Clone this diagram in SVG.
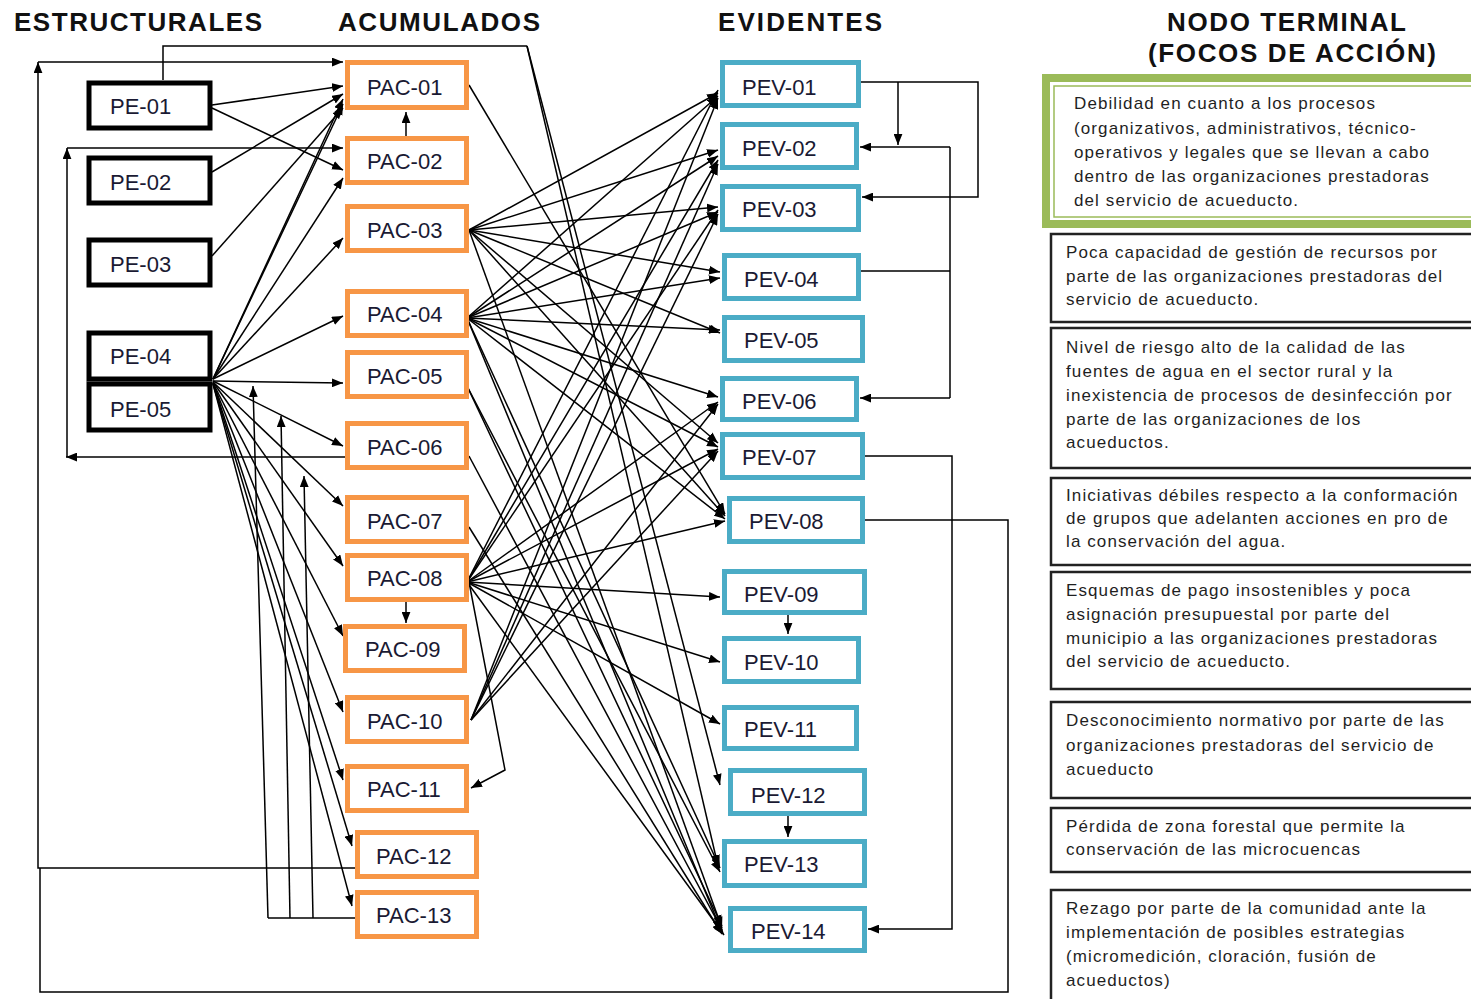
<svg xmlns="http://www.w3.org/2000/svg" width="1471" height="999" viewBox="0 0 1471 999">
<defs>
<marker id="ah" viewBox="0 0 10 8" refX="10" refY="4" markerWidth="11" markerHeight="9" markerUnits="userSpaceOnUse" orient="auto"><path d="M0,0 L10,4 L0,8 z" fill="#000"/></marker>
<style>
.hdr{font-family:"Liberation Sans",Arial,sans-serif;font-weight:bold;font-size:26px;fill:#111}
.pe rect{fill:#fff;stroke:#000;stroke-width:5}
.pac rect{fill:#fff;stroke:#F79646;stroke-width:5}
.pev rect{fill:#fff;stroke:#4BACC6;stroke-width:5}
.lbl{font-family:"Liberation Sans",Arial,sans-serif;font-size:22px;fill:#1a1a33;dominant-baseline:central}
.c path{fill:none;stroke:#000;stroke-width:1.5}
.c .a{marker-end:url(#ah)}
.tb rect{fill:#fff;stroke:#222;stroke-width:2.5}
.tx{font-family:"Liberation Sans",Arial,sans-serif;font-size:17px;letter-spacing:1.1px;fill:#1f1f1f}
</style>
</defs>
<rect width="1471" height="999" fill="#fff"/>

<text class="hdr" x="14" y="31" textLength="248" lengthAdjust="spacing">ESTRUCTURALES</text>
<text class="hdr" x="338" y="31" textLength="202" lengthAdjust="spacing">ACUMULADOS</text>
<text class="hdr" x="718" y="31" textLength="164" lengthAdjust="spacing">EVIDENTES</text>
<text class="hdr" x="1167" y="31" textLength="239" lengthAdjust="spacing">NODO TERMINAL</text>
<text class="hdr" x="1148" y="62" textLength="288" lengthAdjust="spacing">(FOCOS DE ACCIÓN)</text>

<g class="c" id="connectors">
<path class="a" d="M212,105 L343,86"/>
<path class="a" d="M212,108 L343,170"/>
<path class="a" d="M212,172 L343,94"/>
<path class="a" d="M212,256 L343,108"/>
<path class="a" d="M213,379 L343,99"/>
<path class="a" d="M213,379 L343,104"/>
<path class="a" d="M213,379 L343,178"/>
<path class="a" d="M213,379 L343,238"/>
<path class="a" d="M213,379 L343,316"/>
<path class="a" d="M213,381 L343,383"/>
<path class="a" d="M213,381 L343,446"/>
<path class="a" d="M213,382 L343,506"/>
<path class="a" d="M213,382 L343,566"/>
<path class="a" d="M213,383 L343,636"/>
<path class="a" d="M213,383 L343,712"/>
<path class="a" d="M213,383 L343,780"/>
<path class="a" d="M213,384 L352,846"/>
<path class="a" d="M213,384 L352,906"/>
<path d="M355,918 L268,918"/>
<path class="a" d="M268,918 L253,386"/>
<path class="a" d="M290,918 L281,416"/>
<path class="a" d="M313,918 L304,476"/>
<path class="a" d="M355,868 L38,868 L38,62"/>
<path class="a" d="M38,62 L343,62"/>
<path d="M864,520 L1008,520 L1008,992 L40,992 L40,868"/>
<path class="a" d="M345,457 L66,457"/>
<path class="a" d="M67,457 L67,148"/>
<path class="a" d="M67,148 L343,148"/>
<path d="M163,80 L163,46 L527,46"/>
<path class="a" d="M527,46 L720,785"/>
<path class="a" d="M527,46 L718,866"/>
<path class="a" d="M406,136 L406,112"/>
<path class="a" d="M406,602 L406,623"/>
<path class="a" d="M469,582 L505,770 L471,788"/>
<path class="a" d="M469,85 L725,514"/>
<path class="a" d="M469,230 L718,93"/>
<path class="a" d="M469,230 L718,150"/>
<path class="a" d="M469,230 L718,207"/>
<path class="a" d="M469,230 L720,272"/>
<path class="a" d="M469,230 L720,333"/>
<path class="a" d="M469,230 L718,443"/>
<path class="a" d="M469,230 L725,516"/>
<path class="a" d="M469,230 L722,928"/>
<path class="a" d="M467,318 L718,96"/>
<path class="a" d="M467,318 L718,156"/>
<path class="a" d="M467,318 L718,212"/>
<path class="a" d="M467,318 L720,278"/>
<path class="a" d="M467,318 L720,330"/>
<path class="a" d="M467,318 L718,397"/>
<path class="a" d="M467,318 L718,447"/>
<path class="a" d="M467,318 L725,519"/>
<path class="a" d="M467,318 L720,868"/>
<path class="a" d="M467,318 L722,932"/>
<path class="a" d="M467,386 L720,872"/>
<path class="a" d="M467,386 L722,926"/>
<path class="a" d="M469,456 L722,930"/>
<path class="a" d="M469,527 L722,934"/>
<path class="a" d="M467,582 L718,90"/>
<path class="a" d="M467,582 L718,160"/>
<path class="a" d="M467,582 L718,210"/>
<path class="a" d="M467,582 L718,402"/>
<path class="a" d="M467,582 L718,449"/>
<path class="a" d="M467,582 L725,521"/>
<path class="a" d="M467,582 L720,597"/>
<path class="a" d="M467,582 L720,662"/>
<path class="a" d="M467,582 L720,724"/>
<path class="a" d="M467,582 L724,935"/>
<path class="a" d="M471,720 L718,98"/>
<path class="a" d="M471,720 L718,164"/>
<path class="a" d="M471,720 L718,214"/>
<path class="a" d="M471,720 L718,404"/>
<path class="a" d="M471,720 L718,451"/>
<path class="a" d="M860,82 L978,82 L978,197 L862,197"/>
<path class="a" d="M898,82 L898,145"/>
<path d="M860,271 L950,271 M950,147 L950,398"/>
<path class="a" d="M950,147 L860,147"/>
<path class="a" d="M950,398 L860,398"/>
<path class="a" d="M864,456 L952,456 L952,929 L868,929"/>
<path class="a" d="M788,615 L788,634"/>
<path class="a" d="M788,816 L788,837"/>
</g>

<g class="pe" id="PE-01"><rect x="89" y="83" width="121" height="45"/><text class="lbl" x="110" y="106">PE-01</text></g>
<g class="pe" id="PE-02"><rect x="89" y="158" width="121" height="45"/><text class="lbl" x="110" y="182">PE-02</text></g>
<g class="pe" id="PE-03"><rect x="89" y="240" width="121" height="45"/><text class="lbl" x="110" y="264">PE-03</text></g>
<g class="pe" id="PE-04"><rect x="89" y="333" width="121" height="46"/><text class="lbl" x="110" y="356">PE-04</text></g>
<g class="pe" id="PE-05"><rect x="89" y="384" width="121" height="46"/><text class="lbl" x="110" y="409">PE-05</text></g>

<g class="pac" id="PAC-01"><rect x="347.5" y="62.5" width="119" height="45"/><text class="lbl" x="367" y="87">PAC-01</text></g>
<g class="pac" id="PAC-02"><rect x="347.5" y="138.5" width="119" height="44"/><text class="lbl" x="367" y="161">PAC-02</text></g>
<g class="pac" id="PAC-03"><rect x="347.5" y="206.5" width="119" height="44"/><text class="lbl" x="367" y="230">PAC-03</text></g>
<g class="pac" id="PAC-04"><rect x="347.5" y="291.5" width="119" height="44"/><text class="lbl" x="367" y="314">PAC-04</text></g>
<g class="pac" id="PAC-05"><rect x="347.5" y="352.5" width="119" height="44"/><text class="lbl" x="367" y="376">PAC-05</text></g>
<g class="pac" id="PAC-06"><rect x="347.5" y="423.5" width="119" height="44"/><text class="lbl" x="367" y="447">PAC-06</text></g>
<g class="pac" id="PAC-07"><rect x="347.5" y="497.5" width="119" height="44"/><text class="lbl" x="367" y="521">PAC-07</text></g>
<g class="pac" id="PAC-08"><rect x="347.5" y="555.5" width="119" height="44"/><text class="lbl" x="367" y="578">PAC-08</text></g>
<g class="pac" id="PAC-09"><rect x="345.5" y="626.5" width="119" height="44"/><text class="lbl" x="365" y="649">PAC-09</text></g>
<g class="pac" id="PAC-10"><rect x="347.5" y="697.5" width="119" height="44"/><text class="lbl" x="367" y="721">PAC-10</text></g>
<g class="pac" id="PAC-11"><rect x="347.5" y="766.5" width="119" height="44"/><text class="lbl" x="367" y="789">PAC-11</text></g>
<g class="pac" id="PAC-12"><rect x="357.5" y="832.5" width="119" height="44"/><text class="lbl" x="376" y="856">PAC-12</text></g>
<g class="pac" id="PAC-13"><rect x="357.5" y="892.5" width="119" height="44"/><text class="lbl" x="376" y="915">PAC-13</text></g>

<g class="pev" id="PEV-01"><rect x="722.5" y="62.5" width="136" height="43"/><text class="lbl" x="742" y="87">PEV-01</text></g>
<g class="pev" id="PEV-02"><rect x="722.5" y="124.5" width="134" height="43"/><text class="lbl" x="742" y="148">PEV-02</text></g>
<g class="pev" id="PEV-03"><rect x="722.5" y="186.5" width="136" height="43"/><text class="lbl" x="742" y="209">PEV-03</text></g>
<g class="pev" id="PEV-04"><rect x="724.5" y="255.5" width="134" height="43"/><text class="lbl" x="744" y="279">PEV-04</text></g>
<g class="pev" id="PEV-05"><rect x="724.5" y="317.5" width="138" height="43"/><text class="lbl" x="744" y="340">PEV-05</text></g>
<g class="pev" id="PEV-06"><rect x="722.5" y="378.5" width="134" height="41"/><text class="lbl" x="742" y="401">PEV-06</text></g>
<g class="pev" id="PEV-07"><rect x="722.5" y="434.5" width="140" height="43"/><text class="lbl" x="742" y="457">PEV-07</text></g>
<g class="pev" id="PEV-08"><rect x="729.5" y="498.5" width="133" height="43"/><text class="lbl" x="749" y="521">PEV-08</text></g>
<g class="pev" id="PEV-09"><rect x="724.5" y="571.5" width="140" height="41"/><text class="lbl" x="744" y="594">PEV-09</text></g>
<g class="pev" id="PEV-10"><rect x="724.5" y="638.5" width="134" height="43"/><text class="lbl" x="744" y="662">PEV-10</text></g>
<g class="pev" id="PEV-11"><rect x="724.5" y="707.5" width="132" height="41"/><text class="lbl" x="744" y="729">PEV-11</text></g>
<g class="pev" id="PEV-12"><rect x="730.5" y="770.5" width="134" height="43"/><text class="lbl" x="751" y="795">PEV-12</text></g>
<g class="pev" id="PEV-13"><rect x="724.5" y="841.5" width="140" height="44"/><text class="lbl" x="744" y="864">PEV-13</text></g>
<g class="pev" id="PEV-14"><rect x="730.5" y="908.5" width="134" height="42"/><text class="lbl" x="751" y="931">PEV-14</text></g>

<g id="NT-1">
<rect x="1046" y="78" width="440" height="146" fill="#fff" stroke="#9BBB59" stroke-width="8"/>
<rect x="1054" y="86" width="430" height="131" fill="none" stroke="#9BBB59" stroke-width="1.5"/>
<text class="tx"><tspan x="1074" y="109">Debilidad en cuanto a los procesos</tspan><tspan x="1074" y="134">(organizativos, administrativos, técnico-</tspan><tspan x="1074" y="158">operativos y legales que se llevan a cabo</tspan><tspan x="1074" y="182">dentro de las organizaciones prestadoras</tspan><tspan x="1074" y="206">del servicio de acueducto.</tspan></text>
</g>
<g class="tb" id="NT-2"><rect x="1051" y="234" width="430" height="88"/>
<text class="tx"><tspan x="1066" y="258">Poca capacidad de gestión de recursos por</tspan><tspan x="1066" y="282">parte de las  organizaciones prestadoras del</tspan><tspan x="1066" y="305">servicio de acueducto.</tspan></text></g>
<g class="tb" id="NT-3"><rect x="1051" y="328" width="430" height="140"/>
<text class="tx"><tspan x="1066" y="353">Nivel de riesgo alto de la calidad de las</tspan><tspan x="1066" y="377">fuentes de agua en el sector rural y la</tspan><tspan x="1066" y="401">inexistencia de procesos de desinfección por</tspan><tspan x="1066" y="425">parte de las organizaciones de los</tspan><tspan x="1066" y="448">acueductos.</tspan></text></g>
<g class="tb" id="NT-4"><rect x="1051" y="478" width="430" height="87"/>
<text class="tx"><tspan x="1066" y="501">Iniciativas débiles respecto a la conformación</tspan><tspan x="1066" y="524">de grupos  que adelanten acciones en pro de</tspan><tspan x="1066" y="547">la conservación del agua.</tspan></text></g>
<g class="tb" id="NT-5"><rect x="1051" y="572" width="430" height="117"/>
<text class="tx"><tspan x="1066" y="596">Esquemas de pago insostenibles y poca</tspan><tspan x="1066" y="620">asignación presupuestal por parte del</tspan><tspan x="1066" y="644">municipio a  las organizaciones prestadoras</tspan><tspan x="1066" y="667">del servicio de acueducto.</tspan></text></g>
<g class="tb" id="NT-6"><rect x="1051" y="702" width="430" height="96"/>
<text class="tx"><tspan x="1066" y="726">Desconocimiento normativo por parte de las</tspan><tspan x="1066" y="751">organizaciones prestadoras del servicio de</tspan><tspan x="1066" y="775">acueducto</tspan></text></g>
<g class="tb" id="NT-7"><rect x="1051" y="808" width="430" height="64"/>
<text class="tx"><tspan x="1066" y="832">Pérdida de zona forestal que permite la</tspan><tspan x="1066" y="855">conservación de las microcuencas</tspan></text></g>
<g class="tb" id="NT-8"><rect x="1051" y="890" width="430" height="120"/>
<text class="tx"><tspan x="1066" y="914">Rezago por parte de la comunidad ante la</tspan><tspan x="1066" y="938">implementación de posibles estrategias</tspan><tspan x="1066" y="962">(micromedición, cloración, fusión de</tspan><tspan x="1066" y="986">acueductos)</tspan></text></g>
</svg>
